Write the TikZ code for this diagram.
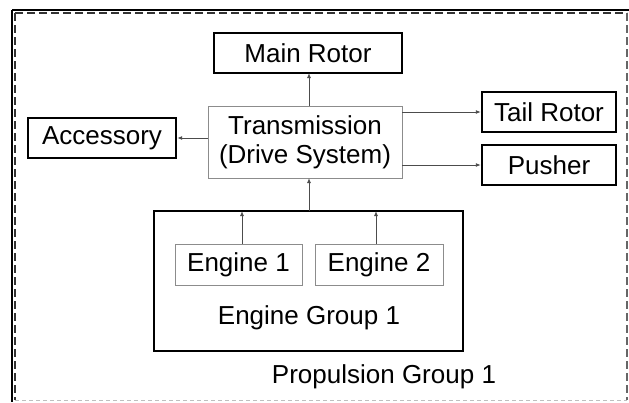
\documentclass[tikz,border=0pt]{standalone}
\usepackage{fontspec}
\setmainfont{Liberation Sans}
\usetikzlibrary{arrows.meta}
\begin{document}
\begin{tikzpicture}[x=1pt,y=-1pt,
  thickbox/.style={draw=black,line width=2.4pt,inner sep=0pt,font=\fontsize{26}{29}\selectfont},
  thinbox/.style={draw=black!45,line width=1pt,inner sep=0pt,font=\fontsize{26}{29}\selectfont},
  conn/.style={draw=black!70,line width=0.9pt,-{Latex[length=5pt,width=4pt]}},
  lbl/.style={inner sep=0pt,font=\fontsize{26}{29}\selectfont}]
\useasboundingbox (0,0) rectangle (629,402);
% outer frame
\draw[line width=1.5pt] (12,10) -- (629,10);
\draw[line width=1.2pt] (12,10) -- (12,402);
\draw[black!80,line width=2.2pt,dash pattern=on 8pt off 4pt] (15,13) -- (627,13);
\draw[black!80,line width=2.2pt,dash pattern=on 8pt off 4pt] (15,13) -- (15,400);
\draw[black!60,line width=1.2pt,dash pattern=on 8pt off 4pt] (627,13) -- (627,400);
\draw[black!25,line width=1pt,dash pattern=on 4pt off 3pt] (15,400) -- (627,400);
% nodes
\node[thickbox,minimum width=188pt,minimum height=40pt] (main) at (308,53) {Main Rotor};
\node[thickbox,minimum width=148pt,minimum height=40pt] (acc) at (102,138) {Accessory};
\node[thinbox,minimum width=194pt,minimum height=72pt,align=center] (trans) at (305,142) {Transmission\\(Drive System)};
\node[thickbox,minimum width=134pt,minimum height=40pt] (tail) at (549,112) {Tail Rotor};
\node[thickbox,minimum width=134pt,minimum height=40pt] (push) at (549,165) {Pusher};
\node[draw=black,line width=2.4pt,minimum width=309pt,minimum height=140pt,inner sep=0pt] (grp) at (308.5,281) {};
\node[thinbox,minimum width=127pt,minimum height=41pt] (e1) at (238.5,264.5) {Engine 1};
\node[thinbox,minimum width=128pt,minimum height=41pt] (e2) at (379,264.5) {Engine 2};
\node[lbl] (grplbl) at (309,318) {Engine Group 1};
\node[lbl] (proplbl) at (384,377) {Propulsion Group 1};
% connectors
\draw[conn] (309,106) -- (309,73);
\draw[conn] (trans.west |- acc.east) -- (acc.east);
\draw[conn] (402,112) -- (tail.west);
\draw[conn] (402,165) -- (push.west);
\draw[conn] (309,211) -- (309,178);
\draw[conn] (e1.north -| 242,0) -- (242,211);
\draw[conn] (e2.north -| 376,0) -- (376,211);
\end{tikzpicture}
\end{document}
